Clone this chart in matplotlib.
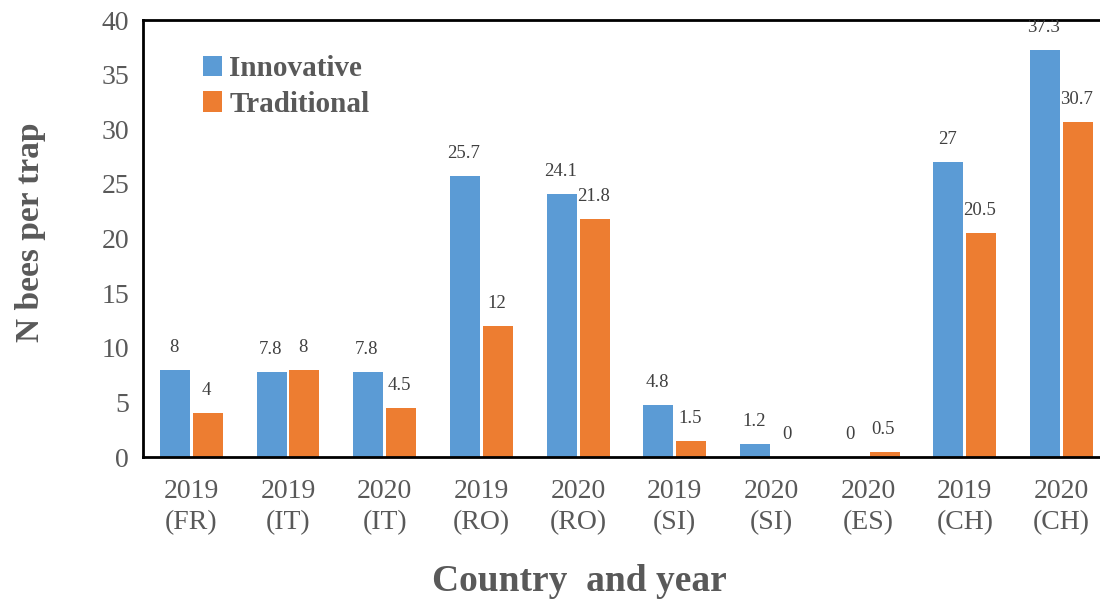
import matplotlib.pyplot as plt
import numpy as np

categories = ["2019\n(FR)", "2019\n(IT)", "2020\n(IT)", "2019\n(RO)", "2020\n(RO)",
              "2019\n(SI)", "2020\n(SI)", "2020\n(ES)", "2019\n(CH)", "2020\n(CH)"]
innovative = [8, 7.8, 7.8, 25.7, 24.1, 4.8, 1.2, 0, 27, 37.3]
traditional = [4, 8, 4.5, 12, 21.8, 1.5, 0, 0.5, 20.5, 30.7]

BLUE = "#5B9BD5"
ORANGE = "#ED7D31"
GREY = "#595959"

plt.rcParams["font.family"] = ["Liberation Serif", "DejaVu Serif"]

fig = plt.figure(figsize=(11, 5.99), dpi=100)
ax = fig.add_axes([0.13, 0.237, 0.879, 0.7295])

x = np.arange(len(categories))
w = 0.31
off = 0.17
b1 = ax.bar(x - off, innovative, w, color=BLUE, label="Innovative")
b2 = ax.bar(x + off, traditional, w, color=ORANGE, label="Traditional")

for bars, vals in ((b1, innovative), (b2, traditional)):
    for rect, v in zip(bars, vals):
        ax.annotate(f"{v:g}", (rect.get_x() + rect.get_width() / 2, rect.get_height()),
                    xytext=(-1, 10), textcoords="offset points", ha="center", va="bottom",
                    fontsize=13.5, color="#404040", annotation_clip=False, clip_on=True)

ax.set_xlim(-0.5, len(categories) - 0.5)
ax.set_ylim(0, 40)
ax.set_yticks(range(0, 41, 5))
ax.set_xticks(x)
ax.set_xticklabels(categories, fontsize=20, color=GREY, linespacing=1.3)
ax.tick_params(axis="y", length=0, pad=10, labelsize=20, labelcolor=GREY)
ax.tick_params(axis="x", length=0, pad=16)

for s in ("left", "top", "bottom"):
    ax.spines[s].set_linewidth(2)
    ax.spines[s].set_color("black")
ax.spines["right"].set_visible(False)

fig.text(0.028, 0.613, "N bees per trap", rotation=90, ha="center", va="center",
         fontsize=24, fontweight="bold", color=GREY)
fig.text(0.527, 0.03, "Country  and year", ha="center", va="center",
         fontsize=27, fontweight="bold", color=GREY)

leg = ax.legend(loc="upper left", bbox_to_anchor=(0.035, 0.98), frameon=False,
                prop={"size": 21, "weight": "bold"}, handlelength=0.65, handleheight=0.7,
                handletextpad=0.25, labelspacing=0.3)
for t in leg.get_texts():
    t.set_color(GREY)

fig.savefig("out.png", dpi=100)
